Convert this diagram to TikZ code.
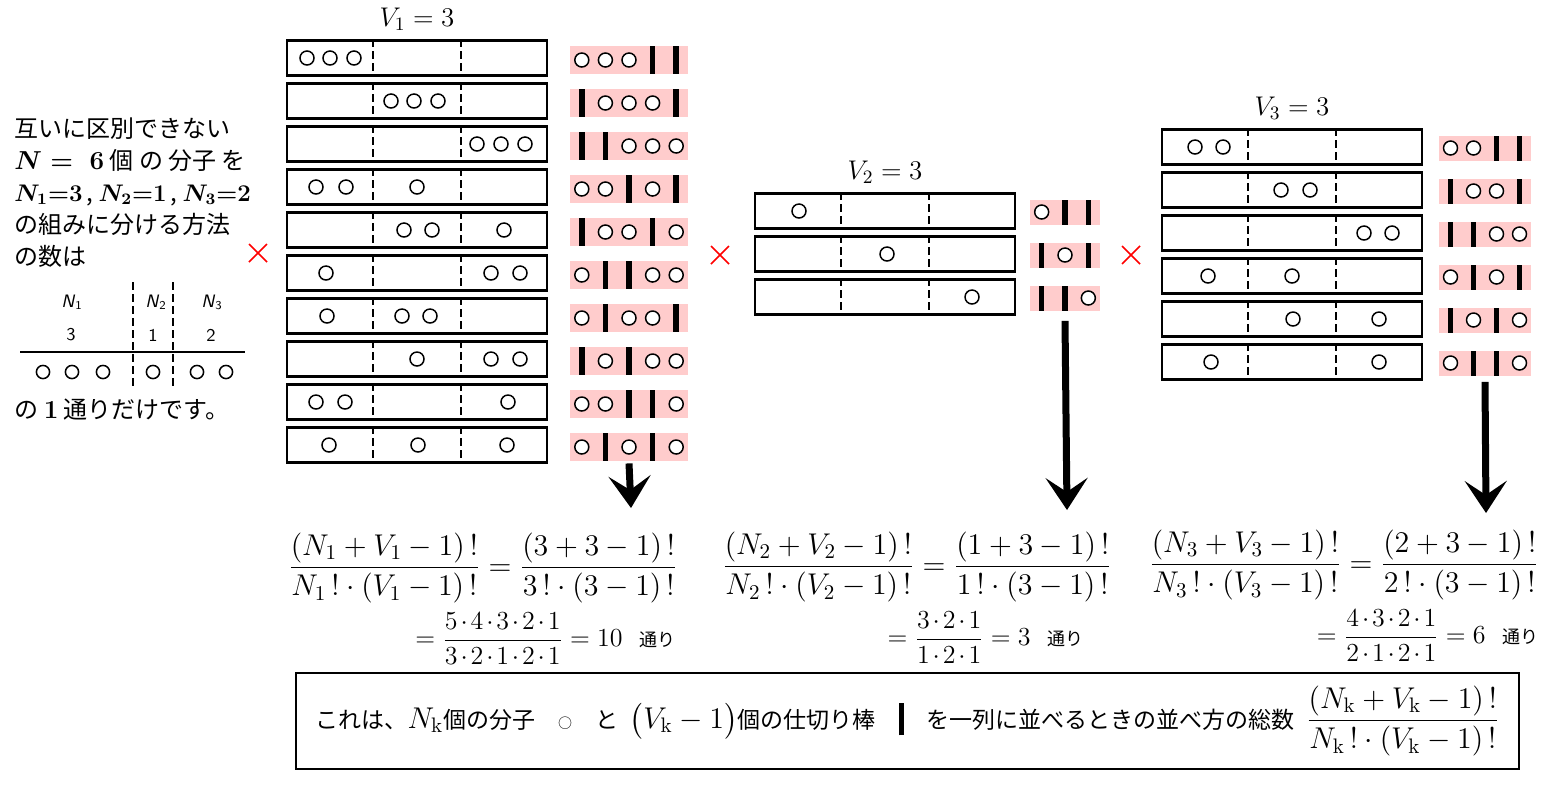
\documentclass[tikz,border=0pt]{standalone}
\usepackage{fix-cm}
\usepackage{amsmath}
\usepackage{amssymb}
\usepackage{fontspec}
\usepackage{tikz}
\usetikzlibrary{positioning,calc,arrows.meta}
\newfontfamily\jp{Noto Sans CJK JP}
\definecolor{stripPink}{RGB}{255,204,204}

\begin{document}
\begin{tikzpicture}[x=0.5pt,y=-0.5pt]
                \tikzstyle{cell}=[draw=black, line width=1.2pt, minimum width=130pt, minimum height=17.5pt, inner sep=0pt]
                \tikzstyle{wall}=[draw, line width=0.9pt, dash pattern=on 4pt off 2pt]
                \tikzstyle{mol}=[draw, line width=0.75pt, fill=white]
                \tikzstyle{strip}=[fill=stripPink, inner sep=0pt]
                \tikzstyle{rod}=[fill=black]
                \tikzstyle{crossmark}=[draw=red, line width=0.8pt]
                \tikzstyle{bigdown}=[draw, line width=3.5pt, -{Stealth[length=16pt,width=21pt,inset=7pt]}]
                \tikzstyle{formula}=[inner sep=0pt, font=\fontsize{15}{18}\selectfont]
                \tikzstyle{countline}=[inner sep=0pt, font=\fontsize{13}{15}\selectfont]
                \tikzstyle{grouplab}=[inner sep=0pt, font=\fontsize{13.5}{16}\selectfont]
                \tikzstyle{tabtext}=[inner sep=0pt, font=\sffamily\fontsize{9}{10}\selectfont]

                \useasboundingbox (0,0) rectangle (1551,784);

                % left explanation
                \node[anchor=north west, align=left, inner sep=0pt, font=\jp\boldmath\fontsize{12}{16}\selectfont] (intro) at (14,117)
                  {互いに区別できない\\ {\fontsize{13}{16}\selectfont$N=\;6$}\ 個 の 分子 を\\
                   {\fontsize{12}{16}\selectfont$N_1{=}3$\,, $N_2{=}1$\,, $N_3{=}2$}\\ の組みに分ける方法\\ の数は};
                \node[tabtext] (hN1) at (72,302) {\textsl{N}\textsubscript{1}};
                \node[tabtext] (hN2) at (156,302) {\textsl{N}\textsubscript{2}};
                \node[tabtext] (hN3) at (212,302) {\textsl{N}\textsubscript{3}};
                \node[tabtext] (n1) at (71,335) {3};
                \node[tabtext] (n2) at (153,335) {1};
                \node[tabtext] (n3) at (211,335) {2};
                \draw[line width=0.8pt] (20,352) -- (245,352);
                \foreach \x in {133,173}
                \draw[wall, line width=0.6pt] (\x,282) -- (\x,388);
                \foreach \x in {43,72,103,153,197,226}
                \draw[mol] (\x,372) circle[radius=3.3pt];
                \node[anchor=west, inner sep=0pt, font=\jp\boldmath\fontsize{12}{16}\selectfont] (outro) at (14,410)
                  {の {\fontsize{13}{16}\selectfont$1$} 通りだけです。};

                % V1 = 3
                \foreach \row/\cols/\pat in {1/{307,330,354}/{0,0,0,1,1}, 2/{391,414,438}/{1,0,0,0,1},
                    3/{477,501,525}/{1,1,0,0,0}, 4/{316,346,417}/{0,0,1,0,1}, 5/{404,432,504}/{1,0,0,1,0},
                    6/{326,491,520}/{0,1,1,0,0}, 7/{327,402,430}/{0,1,0,0,1}, 8/{417,491,520}/{1,0,1,0,0},
                    9/{316,345,508}/{0,0,1,1,0}, 10/{329,418,507}/{0,1,0,1,0}}{
                  \pgfmathsetmacro\by{58+43*(\row-1)}
                  \node[cell] (c1r\row) at (417,\by) {};
                  \draw[wall] ($(c1r\row.north west)!1/3!(c1r\row.north east)$) -- ($(c1r\row.south west)!1/3!(c1r\row.south east)$);
                  \draw[wall] ($(c1r\row.north west)!2/3!(c1r\row.north east)$) -- ($(c1r\row.south west)!2/3!(c1r\row.south east)$);
                  \foreach \cx in \cols \draw[mol] (\cx,\by) circle[radius=3.5pt];
                  \node[strip, minimum width=59pt, minimum height=14pt] (s1r\row) at (629,\by+2) {};
                  \foreach \kind [count=\slot] in \pat {
                    \pgfmathsetmacro\sx{570+23.6*(\slot-0.5)}
                    \ifnum\kind=0 \draw[mol] (\sx,\by+2) circle[radius=3.5pt];
                    \else \fill[rod] (\sx-2.8,\by-12) rectangle (\sx+2.8,\by+16); \fi
                  }
                }
                \node[grouplab, above=4pt of c1r1] (v1lab) {$V_1=3$};

                % V2 = 3
                \foreach \row/\cols/\pat in {1/{799}/{0,1,1}, 2/{887}/{1,0,1}, 3/{972}/{1,1,0}}{
                  \pgfmathsetmacro\by{211+43*(\row-1)}
                  \node[cell] (c2r\row) at (885,\by) {};
                  \draw[wall] ($(c2r\row.north west)!1/3!(c2r\row.north east)$) -- ($(c2r\row.south west)!1/3!(c2r\row.south east)$);
                  \draw[wall] ($(c2r\row.north west)!2/3!(c2r\row.north east)$) -- ($(c2r\row.south west)!2/3!(c2r\row.south east)$);
                  \foreach \cx in \cols \draw[mol] (\cx,\by) circle[radius=3.5pt];
                  \node[strip, minimum width=35pt, minimum height=12.5pt] (s2r\row) at (1065,\by+1) {};
                  \foreach \kind [count=\slot] in \pat {
                    \pgfmathsetmacro\sx{1030+23.33*(\slot-0.5)}
                    \ifnum\kind=0 \draw[mol] (\sx,\by+1) circle[radius=3.5pt];
                    \else \fill[rod] (\sx-2.8,\by-11.5) rectangle (\sx+2.8,\by+13.5); \fi
                  }
                }
                \node[grouplab, above=4pt of c2r1] (v2lab) {$V_2=3$};

                % V3 = 3
                \foreach \row/\cols/\pat in {1/{1195,1223}/{0,0,1,1}, 2/{1281,1310}/{1,0,0,1}, 3/{1364,1392}/{1,1,0,0},
                    4/{1208,1292}/{0,1,0,1}, 5/{1293,1379}/{1,0,1,0}, 6/{1211,1379}/{0,1,1,0}}{
                  \pgfmathsetmacro\by{147+43*(\row-1)}
                  \node[cell] (c3r\row) at (1292,\by) {};
                  \draw[wall] ($(c3r\row.north west)!1/3!(c3r\row.north east)$) -- ($(c3r\row.south west)!1/3!(c3r\row.south east)$);
                  \draw[wall] ($(c3r\row.north west)!2/3!(c3r\row.north east)$) -- ($(c3r\row.south west)!2/3!(c3r\row.south east)$);
                  \foreach \cx in \cols \draw[mol] (\cx,\by) circle[radius=3.5pt];
                  \node[strip, minimum width=46pt, minimum height=12.5pt] (s3r\row) at (1485,\by+1) {};
                  \foreach \kind [count=\slot] in \pat {
                    \pgfmathsetmacro\sx{1439+23*(\slot-0.5)}
                    \ifnum\kind=0 \draw[mol] (\sx,\by+1) circle[radius=3.5pt];
                    \else \fill[rod] (\sx-2.8,\by-11.5) rectangle (\sx+2.8,\by+13.5); \fi
                  }
                }
                \node[grouplab, above=4pt of c3r1] (v3lab) {$V_3=3$};

                % multiplication signs
                \foreach \x/\y in {258/253, 720/255, 1131/255}
                \draw[crossmark] (\x-9,\y-9) -- (\x+9,\y+9) (\x-9,\y+9) -- (\x+9,\y-9);

                % formulas
                \node[formula] (f1top) at (483,568)
                  {$\displaystyle\frac{(N_1+V_1-1)\,!}{N_1\,!\cdot(V_1-1)\,!}=\frac{(3+3-1)\,!}{3\,!\cdot(3-1)\,!}$};
                \node[countline, below left=4pt and 1pt of f1top.south east]  (f1bot)
                  {\medmuskip=2mu $\displaystyle=\frac{5\cdot4\cdot3\cdot2\cdot1}{3\cdot2\cdot1\cdot2\cdot1}=10$\ \ {\jp\fontsize{9}{10}\selectfont 通り}};
                \node[formula] (f2top) at (917,567)
                  {$\displaystyle\frac{(N_2+V_2-1)\,!}{N_2\,!\cdot(V_2-1)\,!}=\frac{(1+3-1)\,!}{1\,!\cdot(3-1)\,!}$};
                \node[countline, below left=4pt and 14pt of f2top.south east] (f2bot)
                  {\medmuskip=2mu $\displaystyle=\frac{3\cdot2\cdot1}{1\cdot2\cdot1}=3$\ \ {\jp\fontsize{9}{10}\selectfont 通り}};
                \node[formula] (f3top) at (1344,565)
                  {$\displaystyle\frac{(N_3+V_3-1)\,!}{N_3\,!\cdot(V_3-1)\,!}=\frac{(2+3-1)\,!}{2\,!\cdot(3-1)\,!}$};
                \node[countline, below left=4pt and 0pt of f3top.south east] (f3bot)
                  {\medmuskip=2mu $\displaystyle=\frac{4\cdot3\cdot2\cdot1}{2\cdot1\cdot2\cdot1}=6$\ \ {\jp\fontsize{9}{10}\selectfont 通り}};

                % arrows down to the formulas
                \coordinate (a1end) at (631,508);
                \coordinate (a2end) at (1067,510);
                \coordinate (a3end) at (1486,513);
                \draw[bigdown] ([yshift=-1pt]s1r10.south) -- (a1end);
                \draw[bigdown] ([yshift=-5pt]s2r3.south) -- (a2end);
                \draw[bigdown] ([yshift=-3pt]s3r6.south) -- (a3end);

                % summary
                \node[draw, line width=1pt, minimum width=611.5pt, minimum height=48pt, inner sep=0pt,
                      font=\jp\fontsize{11.5}{14}\selectfont] (summary) at (907.5,721)
                  {これは、{\fontsize{15}{18}\selectfont$N_{\mathrm{k}}$}個の分子\quad{\fontsize{7}{8}\selectfont ○}\quad と\enspace
                   {\fontsize{15}{18}\selectfont$\bigl(V_{\mathrm{k}}-1\bigr)$}個の仕切り棒\quad\rule[-0.3em]{2.5pt}{1.4em}\quad
                   を一列に並べるときの並べ方の総数\enspace
                   {\fontsize{15}{18}\selectfont$\displaystyle\frac{(N_{\mathrm{k}}+V_{\mathrm{k}}-1)\,!}{N_{\mathrm{k}}\,!\cdot(V_{\mathrm{k}}-1)\,!}$}};
            \end{tikzpicture}
\end{document}
